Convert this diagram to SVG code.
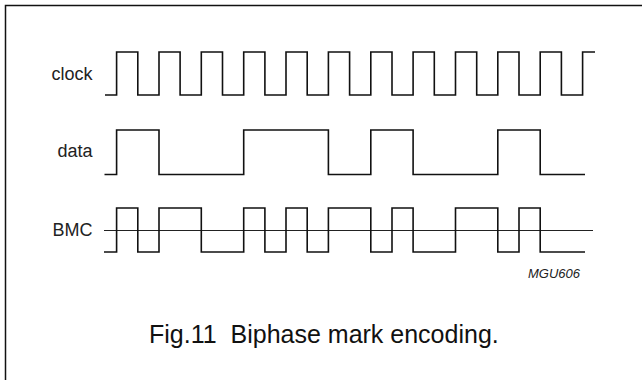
<svg xmlns="http://www.w3.org/2000/svg" width="642" height="380" viewBox="0 0 642 380">
<style>
.wave{fill:none;stroke:#111;stroke-width:1.6;stroke-linejoin:miter;stroke-linecap:butt}
.mid{fill:none;stroke:#222;stroke-width:1}
.lbl{font-family:"Liberation Sans",Arial,sans-serif;font-size:18px;fill:#222;text-anchor:end}
.code{font-family:"Liberation Sans",Arial,sans-serif;font-size:13px;font-style:italic;fill:#222}
.cap{font-family:"Liberation Sans",Arial,sans-serif;font-size:25px;fill:#111;white-space:pre}
.frame{fill:none;stroke:#111;stroke-width:1.5}
</style>
<path class="frame" d="M5.5,380 V5.5 H642"/>
<g id="clock">
<text class="lbl" x="92.5" y="80">clock</text>
<path class="wave" d="M105,95 H116.6 V52 H137.8 V95 H159 V52 H180.1 V95 H201.3 V52 H222.5 V95 H243.7 V52 H264.9 V95 H286 V52 H307.2 V95 H328.4 V52 H349.6 V95 H370.8 V52 H392 V95 H413.1 V52 H434.3 V95 H455.5 V52 H476.7 V95 H497.8 V52 H519 V95 H540.2 V52 H561.4 V95 H582.6 V52 H595"/>
</g>
<g id="data">
<text class="lbl" x="92.5" y="157">data</text>
<path class="wave" d="M104.5,174.5 H116.6 V130 H159 V174.5 H243.7 V130 H328.4 V174.5 H370.8 V130 H413.1 V174.5 H497.8 V130 H540.2 V174.5 H585"/>
</g>
<g id="bmc">
<text class="lbl" x="92.5" y="236">BMC</text>
<path class="mid" d="M104,230.5 H593"/>
<path class="wave" d="M104,252 H116.6 V208 H137.8 V252 H159 V208 H201.3 V252 H243.7 V208 H264.9 V252 H286 V208 H307.2 V252 H328.4 V208 H370.8 V252 H392 V208 H413.1 V252 H455.5 V208 H497.8 V252 H519 V208 H540.2 V252 H585"/>
</g>
<text class="code" x="528" y="278">MGU606</text>
<text class="cap" x="149" y="343">Fig.11  Biphase mark encoding.</text>
</svg>
